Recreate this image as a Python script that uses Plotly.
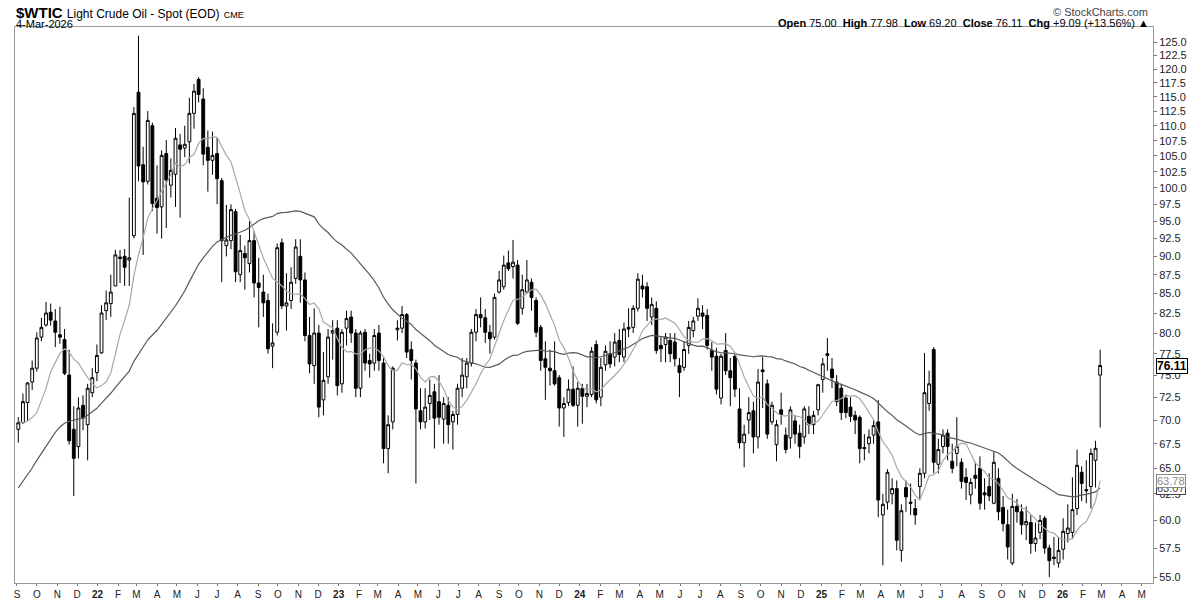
import math
import pandas as pd
import plotly.graph_objects as go

# weekly bars of $WTIC, Sep 6 2021 .. Mar 2 2026
opens = [69.0, 69.7, 71.9, 74.2, 75.8, 79.5, 81.0, 82.6, 81.5, 79.8,
         79.2, 75.0, 69.0, 67.2, 71.6, 69.5, 73.0, 75.3, 77.6, 82.8,
         83.7, 86.0, 89.9, 90.0, 89.5, 92.9, 115.8, 103.6, 101.0, 110.0,
         98.4, 97.1, 105.4, 100.4, 102.1, 106.8, 106.3, 107.3, 112.1, 118.1,
         114.6, 106.4, 104.3, 105.4, 101.1, 91.5, 92.2, 96.4, 87.5, 90.4,
         89.0, 92.2, 86.4, 85.2, 84.1, 78.4, 80.1, 91.9, 83.4, 84.1,
         87.0, 90.0, 86.8, 79.7, 76.1, 80.0, 72.2, 74.8, 80.0, 80.6,
         74.0, 80.6, 82.0, 80.0, 73.5, 80.1, 76.7, 76.4, 80.0, 76.4,
         67.0, 69.8, 80.4, 80.6, 82.3, 78.0, 76.4, 71.0, 69.8, 71.8,
         73.1, 72.0, 70.1, 71.6, 69.8, 70.6, 73.5, 74.8, 76.4, 80.1,
         82.3, 81.9, 80.1, 79.5, 85.2, 85.9, 89.1, 88.6, 88.8, 83.1,
         85.2, 86.5, 84.1, 80.7, 76.9, 75.8, 75.5, 74.7, 71.3, 71.9,
         73.4, 71.6, 73.5, 72.6, 72.8, 78.6, 72.5, 76.2, 77.5, 77.1,
         79.1, 77.1, 80.7, 80.7, 83.1, 86.0, 85.9, 82.0, 83.1, 78.5,
         78.6, 79.1, 78.9, 76.1, 75.9, 78.5, 80.3, 82.1, 82.5, 82.2,
         77.9, 77.2, 72.4, 77.9, 75.5, 77.2, 71.2, 67.6, 70.0, 71.0,
         68.2, 75.6, 74.0, 69.8, 67.4, 71.1, 68.4, 68.1, 69.9, 68.6,
         68.2, 70.4, 69.5, 71.1, 74.5, 77.5, 75.7, 74.2, 73.5, 72.4,
         71.4, 70.5, 70.3, 67.1, 67.5, 68.4, 69.8, 60.5, 61.7, 62.5,
         63.0, 57.3, 63.1, 61.7, 61.1, 63.2, 64.5, 71.8, 78.0, 65.4,
         67.2, 68.6, 65.7, 66.5, 65.6, 64.1, 62.4, 64.3, 65.0, 62.6,
         63.2, 61.6, 64.0, 61.2, 59.6, 56.2, 61.3, 60.8, 59.6, 59.8,
         57.9, 58.9, 60.2, 57.5, 56.7, 56.2, 57.4, 58.8, 58.9, 61.1,
         64.6, 62.9, 63.2, 65.8, 75.00]

highs = [70.3, 72.9, 74.2, 76.7, 80.1, 81.9, 83.9, 83.7, 83.0, 83.3,
         80.5, 78.0, 71.5, 72.5, 72.7, 74.0, 75.8, 78.6, 83.5, 85.4,
         87.5, 90.9, 90.9, 91.0, 98.5, 113.2, 126.3, 106.5, 112.5, 110.5,
         103.5, 105.9, 107.6, 104.6, 109.6, 108.6, 110.0, 114.8, 117.3, 118.5,
         116.5, 109.2, 109.0, 108.0, 101.5, 97.4, 97.5, 96.8, 93.0, 91.5,
         95.0, 93.5, 89.8, 87.5, 85.0, 81.2, 91.8, 92.5, 87.7, 88.5,
         92.4, 92.4, 87.8, 82.0, 83.1, 81.0, 77.7, 80.5, 81.6, 81.6,
         80.5, 82.8, 82.8, 80.5, 80.3, 80.5, 77.5, 80.5, 81.0, 77.0,
         70.5, 76.0, 81.6, 83.4, 82.5, 79.0, 76.8, 73.5, 73.5, 74.5,
         74.0, 75.0, 72.5, 72.5, 71.0, 74.0, 77.0, 77.0, 80.5, 83.0,
         84.5, 83.0, 81.0, 85.0, 88.0, 90.1, 90.8, 92.3, 89.5, 87.5,
         89.5, 87.0, 84.5, 81.0, 79.0, 78.0, 79.0, 75.0, 72.5, 74.5,
         76.0, 74.2, 74.0, 74.0, 78.3, 79.1, 77.0, 78.5, 79.0, 80.0,
         80.5, 81.3, 83.1, 83.5, 87.7, 87.5, 86.5, 84.5, 84.0, 79.5,
         80.0, 80.0, 80.0, 77.0, 79.0, 81.5, 82.0, 84.4, 83.5, 83.0,
         78.9, 78.2, 77.5, 80.0, 77.0, 77.6, 73.5, 69.5, 72.5, 72.0,
         75.7, 77.1, 74.5, 72.0, 70.0, 73.0, 69.2, 71.5, 70.5, 69.5,
         71.5, 71.5, 71.0, 74.0, 77.0, 79.4, 77.0, 75.0, 74.0, 72.8,
         72.5, 71.0, 70.5, 68.5, 69.0, 70.0, 72.2, 62.5, 64.9, 64.0,
         63.8, 61.5, 63.8, 63.5, 62.0, 65.0, 77.6, 75.5, 78.3, 68.0,
         69.0, 69.0, 67.5, 70.3, 66.0, 65.0, 64.0, 65.6, 66.2, 64.0,
         64.5, 66.7, 65.0, 62.3, 61.0, 62.5, 62.0, 61.5, 61.3, 60.5,
         59.8, 60.5, 60.4, 57.8, 58.5, 58.5, 60.2, 61.5, 64.1, 66.9,
         65.2, 65.8, 67.0, 67.8, 77.98]

lows = [67.6, 69.6, 69.9, 73.3, 75.4, 79.0, 80.8, 80.9, 78.3, 78.7,
        75.0, 67.4, 62.3, 66.0, 68.9, 65.8, 72.5, 74.3, 77.5, 81.6,
        82.0, 86.0, 86.4, 86.0, 86.0, 92.5, 101.0, 90.2, 100.5, 96.5,
        93.2, 92.5, 94.0, 98.5, 97.1, 95.5, 104.8, 103.8, 109.5, 114.0,
        103.5, 99.4, 102.0, 97.5, 86.5, 90.0, 91.0, 86.5, 86.5, 85.5,
        87.8, 84.5, 80.7, 82.0, 77.5, 75.8, 79.7, 83.0, 80.3, 83.0,
        86.3, 83.8, 79.0, 75.2, 74.0, 70.3, 70.5, 74.0, 76.8, 72.7,
        73.0, 78.5, 78.8, 72.5, 72.5, 75.5, 74.7, 75.5, 75.5, 65.5,
        64.5, 69.0, 79.1, 80.0, 77.0, 74.5, 63.5, 69.0, 69.1, 70.0,
        67.0, 69.5, 67.5, 67.5, 66.9, 69.5, 72.5, 73.5, 76.0, 79.0,
        80.7, 78.8, 77.5, 79.2, 85.0, 85.5, 88.0, 87.0, 81.0, 82.3,
        85.0, 82.8, 79.5, 75.5, 72.2, 73.8, 73.8, 69.3, 68.2, 71.5,
        71.4, 69.3, 69.6, 71.4, 72.5, 71.8, 71.5, 75.5, 75.8, 76.0,
        76.5, 76.5, 79.5, 80.0, 82.7, 84.5, 81.5, 81.0, 77.5, 76.5,
        76.5, 76.5, 76.0, 72.5, 75.5, 77.5, 79.5, 81.5, 80.5, 78.0,
        75.5, 72.8, 71.7, 75.0, 71.5, 72.5, 67.0, 65.1, 68.5, 66.5,
        67.0, 71.3, 68.0, 69.5, 65.7, 69.5, 66.5, 67.0, 67.5, 66.0,
        67.5, 68.5, 68.5, 70.5, 73.0, 75.5, 73.5, 71.5, 70.0, 70.2,
        69.8, 68.5, 65.5, 65.8, 66.5, 67.5, 60.3, 56.0, 61.0, 61.5,
        57.3, 56.3, 60.8, 60.5, 59.6, 62.0, 64.0, 71.0, 64.5, 64.5,
        66.5, 65.8, 64.5, 65.2, 63.0, 61.9, 61.5, 63.0, 61.0, 61.0,
        61.8, 61.5, 60.0, 59.0, 56.5, 56.0, 59.8, 58.7, 58.2, 57.0,
        57.2, 58.3, 57.0, 55.0, 56.0, 55.8, 56.5, 58.0, 58.3, 60.5,
        61.8, 61.6, 61.1, 63.1, 69.20]

closes = [69.7, 72.0, 74.1, 75.8, 79.4, 80.7, 82.5, 81.6, 80.1, 79.5,
          75.2, 67.8, 66.0, 71.3, 70.2, 73.5, 74.7, 77.3, 82.5, 83.8,
          85.2, 90.2, 89.7, 88.5, 89.8, 112.1, 103.4, 100.9, 110.9, 97.6,
          97.0, 105.1, 101.2, 102.7, 107.9, 106.1, 106.9, 112.1, 116.0, 115.4,
          105.3, 104.3, 105.1, 101.4, 92.2, 92.3, 96.7, 87.9, 90.8, 89.8,
          92.2, 86.4, 85.8, 83.8, 78.1, 78.8, 91.2, 83.4, 83.8, 86.5,
          91.3, 86.8, 79.7, 76.3, 80.0, 71.4, 74.4, 79.5, 80.3, 73.8,
          80.1, 81.8, 80.0, 73.5, 80.0, 76.4, 76.3, 79.7, 76.7, 67.0,
          69.5, 75.8, 80.6, 82.3, 77.7, 76.7, 71.2, 69.8, 71.4, 72.7,
          70.2, 70.3, 71.8, 69.5, 70.6, 73.5, 75.0, 76.4, 80.1, 82.3,
          81.9, 80.1, 79.3, 84.5, 86.8, 88.8, 88.3, 89.2, 81.2, 85.5,
          86.8, 84.5, 80.1, 76.7, 75.9, 75.5, 74.0, 71.3, 71.8, 73.4,
          71.6, 73.5, 72.6, 72.9, 77.8, 72.2, 75.9, 77.8, 76.3, 78.9,
          77.4, 80.5, 80.5, 83.1, 86.9, 85.6, 83.1, 83.6, 77.9, 78.1,
          79.5, 77.5, 76.9, 75.3, 78.0, 80.7, 81.5, 83.1, 82.1, 78.5,
          77.1, 73.4, 77.2, 75.5, 74.7, 73.4, 67.6, 68.5, 70.8, 68.2,
          74.2, 75.4, 68.5, 71.6, 69.5, 70.6, 66.9, 71.1, 68.5, 67.2,
          71.2, 69.5, 70.5, 73.9, 76.3, 77.3, 74.7, 72.0, 70.8, 70.8,
          70.4, 70.0, 67.0, 67.0, 68.2, 69.4, 61.9, 61.5, 64.6, 63.0,
          58.2, 60.9, 62.2, 61.6, 60.5, 64.5, 73.0, 74.0, 65.6, 66.9,
          68.4, 67.2, 65.0, 67.2, 63.7, 63.6, 63.6, 64.0, 61.6, 62.4,
          62.3, 65.6, 60.8, 59.7, 57.6, 61.3, 60.8, 59.6, 59.9, 57.9,
          58.4, 60.0, 57.5, 56.4, 56.6, 57.3, 59.0, 59.3, 61.0, 65.3,
          63.5, 62.8, 66.5, 67.02, 76.11]

# weekly closes Dec 2020 .. Sep 3 2021, only used to warm up the moving averages
prior_closes = [46.57, 49.10, 48.23, 48.52, 52.24, 52.36, 52.27, 52.20, 56.85, 59.47,
                59.24, 61.50, 66.09, 65.61, 61.42, 60.97, 61.45, 59.32, 63.13, 62.14,
                63.58, 64.90, 65.37, 63.58, 66.32, 69.62, 70.91, 71.64, 74.05, 75.16,
                74.56, 71.81, 72.07, 73.95, 68.28, 68.44, 62.32, 68.74, 69.29]

price_ticks = [55.0, 57.5, 60.0, 62.5, 65.0, 67.5, 70.0, 72.5, 75.0, 77.5, 80.0,
               82.5, 85.0, 87.5, 90.0, 92.5, 95.0, 97.5, 100.0, 102.5, 105.0,
               107.5, 110.0, 112.5, 115.0, 117.5, 120.0, 122.5, 125.0]

month_labels = ["S", "O", "N", "D",
                "<b>22</b>", "F", "M", "A", "M", "J", "J", "A", "S", "O", "N", "D",
                "<b>23</b>", "F", "M", "A", "M", "J", "J", "A", "S", "O", "N", "D",
                "<b>24</b>", "F", "M", "A", "M", "J", "J", "A", "S", "O", "N", "D",
                "<b>25</b>", "F", "M", "A", "M", "J", "J", "A", "S", "O", "N", "D",
                "<b>26</b>", "F", "M", "A", "M"]

FONT = "Liberation Sans, Arial, sans-serif"

dates = pd.date_range("2021-09-06", periods=len(closes), freq="7D")
all_closes = pd.Series(prior_closes + closes)
ma10 = all_closes.rolling(10).mean().iloc[len(prior_closes):].values
ma40 = all_closes.rolling(40).mean().iloc[len(prior_closes):].values

month_ticks = pd.date_range("2021-09-01", "2026-05-01", freq="MS") + pd.Timedelta(days=3)

fig = go.Figure()
fig.add_trace(go.Scatter(x=dates, y=ma40, mode="lines",
                         line=dict(color="#5a5a5a", width=1.2), hoverinfo="skip"))
fig.add_trace(go.Scatter(x=dates, y=ma10, mode="lines",
                         line=dict(color="#a8a8a8", width=1.2), hoverinfo="skip"))
fig.add_trace(go.Candlestick(x=dates, open=opens, high=highs, low=lows, close=closes,
                             increasing=dict(fillcolor="white", line=dict(color="black", width=1)),
                             decreasing=dict(fillcolor="black", line=dict(color="black", width=1)),
                             whiskerwidth=0, name="$WTIC"))

# the page body adds an 8px offset, so the figure is 8px smaller than the window
fig.update_layout(
    width=1192, height=592,
    margin=dict(l=7, r=47, t=19, b=17, autoexpand=False),
    paper_bgcolor="white", plot_bgcolor="white",
    showlegend=False,
    boxgap=0.12,
    font=dict(family=FONT, size=11, color="#222"),
)
fig.update_xaxes(
    type="date", automargin=False,
    range=["2021-09-01", "2026-05-21"],
    rangeslider_visible=False,
    tickvals=month_ticks, ticktext=month_labels,
    tickangle=0, tickfont=dict(size=10, color="#222"),
    ticks="outside", ticklen=2, tickcolor="#777",
    showgrid=False, zeroline=False,
    showline=True, linecolor="#999", linewidth=1, mirror=True,
)
fig.update_yaxes(
    type="log", side="right", automargin=False,
    range=[math.log10(54.5), math.log10(128.0)],
    tickvals=price_ticks, ticktext=["%.1f" % v for v in price_ticks],
    tickfont=dict(size=11, color="#222"),
    ticks="outside", ticklen=3, tickcolor="#777",
    showgrid=False, zeroline=False,
    showline=True, linecolor="#999", linewidth=1, mirror=True,
)

# header (positions in pixels above the plot frame)
fig.add_annotation(xref="paper", yref="paper", x=0.0, y=1.0, xanchor="left", yanchor="middle",
                   yshift=15, xshift=-1, showarrow=False,
                   text="<b>$WTIC</b> <span style='font-size:12px'>Light Crude Oil - Spot (EOD)</span>"
                        " <span style='font-size:9px'>CME</span>",
                   font=dict(size=15, color="black", family=FONT))
fig.add_annotation(xref="paper", yref="paper", x=0.0, y=1.0, xanchor="left", yanchor="middle",
                   yshift=3, xshift=-1, showarrow=False, text="4-Mar-2026",
                   font=dict(size=11, color="black", family=FONT))
fig.add_annotation(xref="paper", yref="paper", x=1.0, y=1.0, xanchor="right", yanchor="middle",
                   yshift=15, xshift=-3, showarrow=False, text="\u00a9 StockCharts.com",
                   font=dict(size=11, color="#444", family=FONT))
fig.add_annotation(xref="paper", yref="paper", x=1.0, y=1.0, xanchor="right", yanchor="middle",
                   yshift=4, xshift=-2, showarrow=False,
                   text="<b>Open</b> 75.00  <b>High</b> 77.98  <b>Low</b> 69.20  "
                        "<b>Close</b> 76.11  <b>Chg</b> +9.09 (+13.56%) \u25b2",
                   font=dict(size=11, color="black", family=FONT))

# last values on the price axis
tags = [(ma40[-1], "%.2f" % ma40[-1], "#444", "#444", 11),
        (ma10[-1], "%.2f" % ma10[-1], "#888", "#888", 11),
        (76.11, "<b>76.11</b>", "black", "black", 12)]
for val, txt, col, border, size in tags:
    fig.add_annotation(xref="paper", yref="y", x=1.0, y=math.log10(val), xanchor="left",
                       yanchor="middle", xshift=3, showarrow=False, text=txt,
                       font=dict(size=size, color=col, family=FONT),
                       bgcolor="white", bordercolor=border, borderwidth=1, borderpad=0)

fig.write_html("out.html")
